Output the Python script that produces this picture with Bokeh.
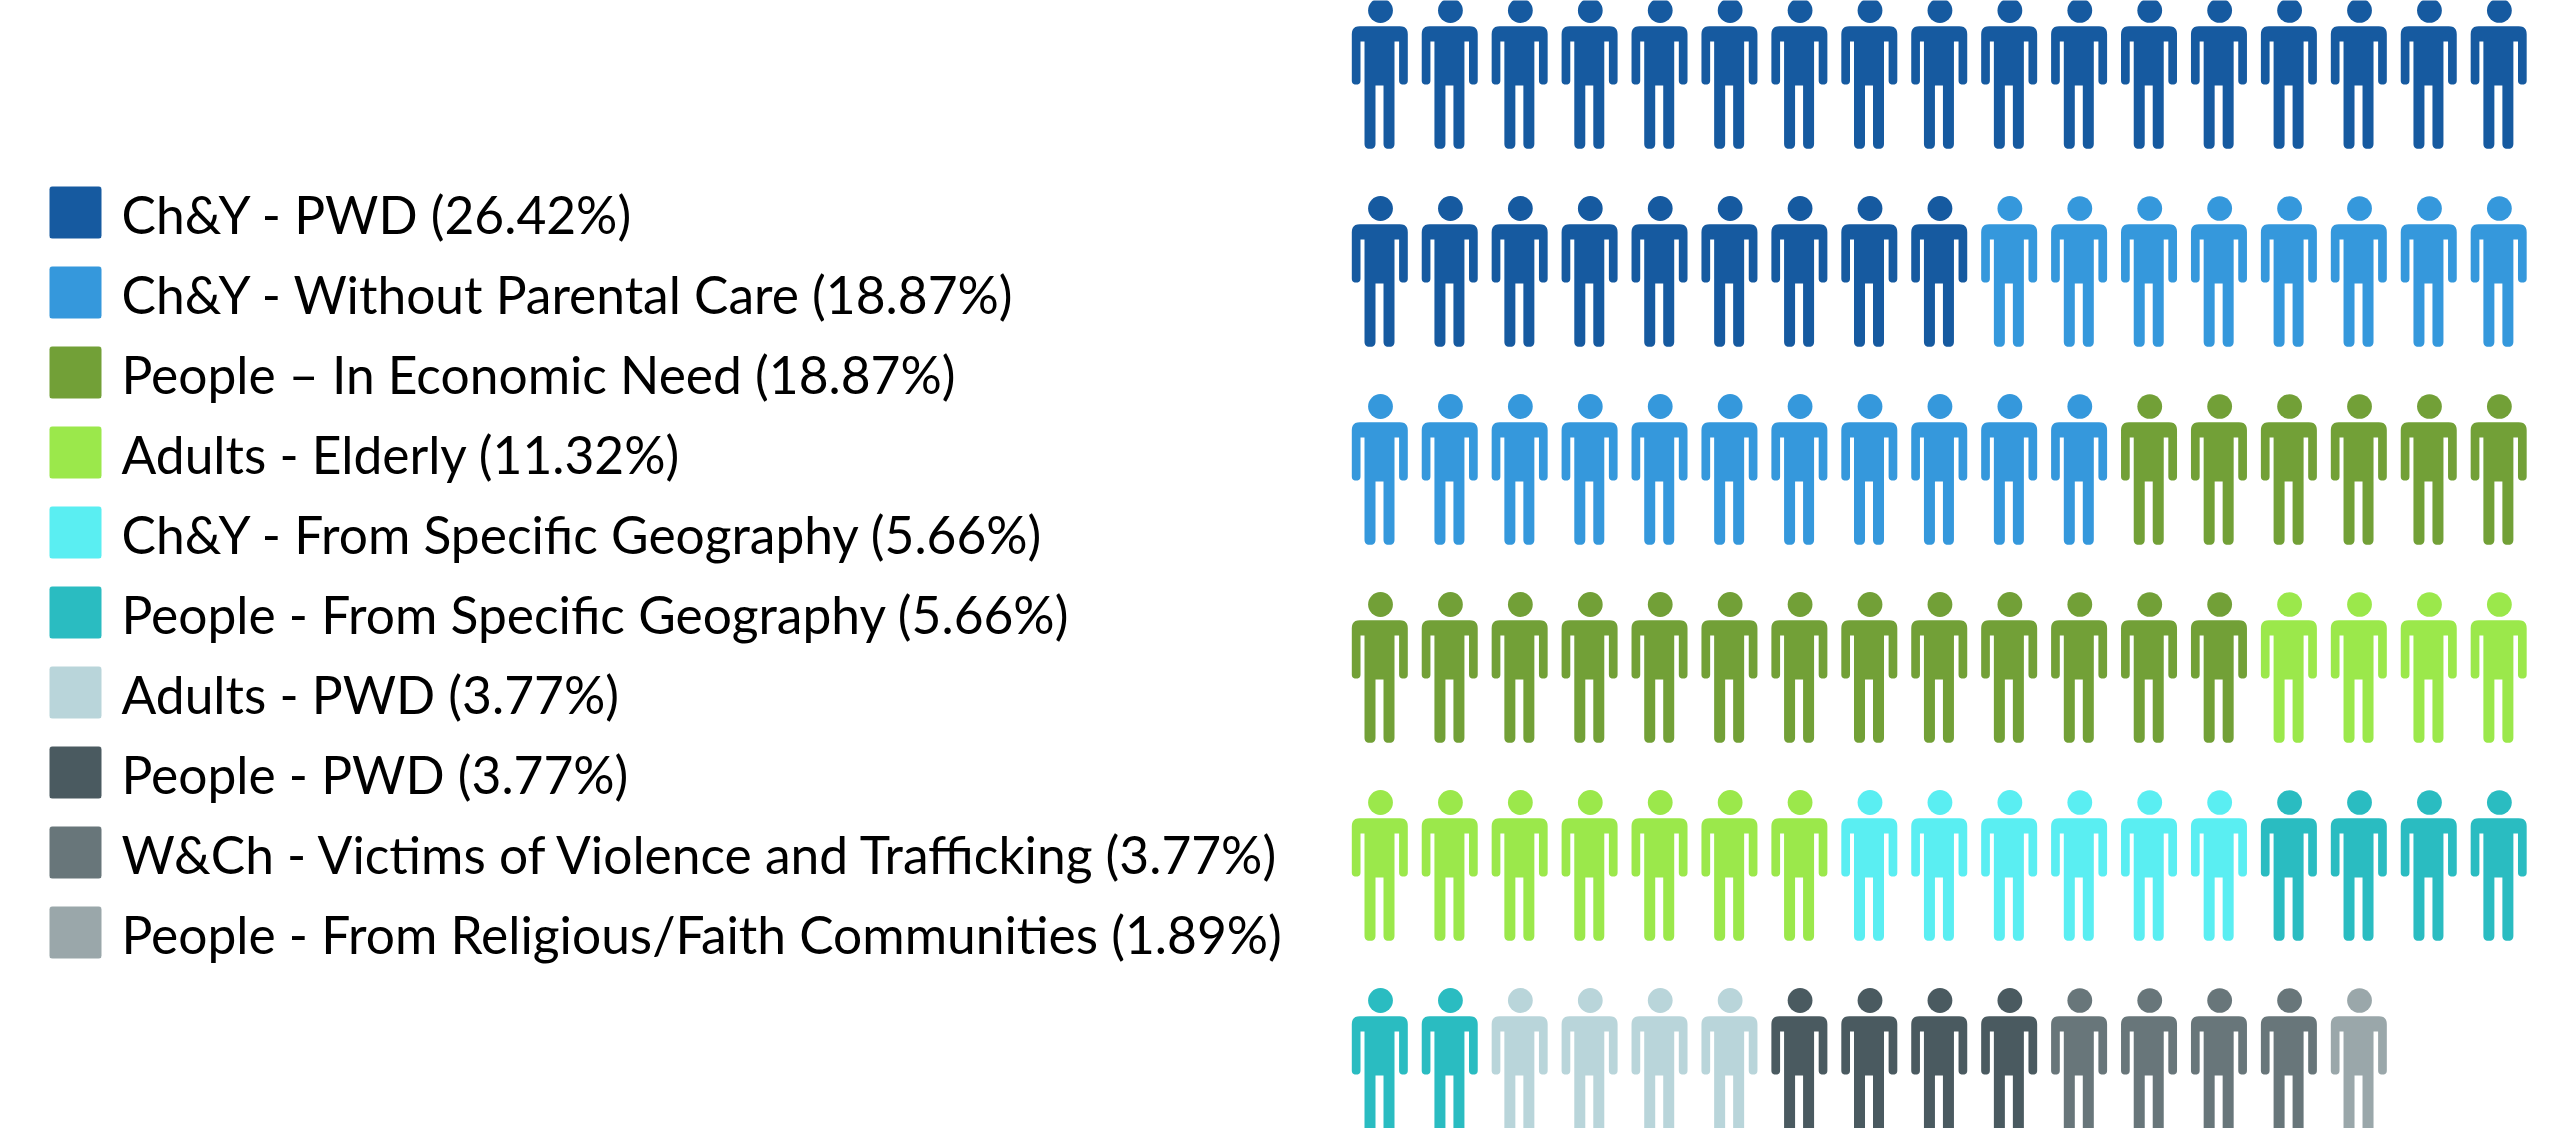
import math
from bokeh.plotting import figure
from bokeh.models import Range1d
from bokeh.core.properties import value
from bokeh.embed import file_html
from bokeh.resources import INLINE

categories = ["Ch&Y - PWD", "Ch&Y - Without Parental Care", "People \u2013 In Economic Need",
              "Adults - Elderly", "Ch&Y - From Specific Geography", "People - From Specific Geography",
              "Adults - PWD", "People - PWD", "W&Ch - Victims of Violence and Trafficking",
              "People - From Religious/Faith Communities"]
percents = ["26.42", "18.87", "18.87", "11.32", "5.66", "5.66", "3.77", "3.77", "3.77", "1.89"]
counts = [26, 19, 19, 11, 6, 6, 4, 4, 4, 1]
colors = ["#165AA0", "#3598DC", "#72A037", "#9BE84B", "#5AEEF2", "#2ABCC1", "#B9D5DA", "#4A5A60", "#68767A", "#9AA7AA"]

COLS = 17
X0, DX = 1380.0, 69.93
Y0, DY = 10.0, 198.0
LEG_X, LEG_Y, LEG_DY = 49.0, 212.0, 80.0


def rounded(pts, radii, n=6):
    xs, ys = [], []
    m = len(pts)
    for i, (px, py) in enumerate(pts):
        r = radii[i]
        if r == 0:
            xs.append(px); ys.append(py); continue
        ax, ay = pts[i - 1]
        bx, by = pts[(i + 1) % m]
        la, lb = math.hypot(ax - px, ay - py), math.hypot(bx - px, by - py)
        ux, uy = (ax - px) / la, (ay - py) / la
        vx, vy = (bx - px) / lb, (by - py) / lb
        for k in range(n + 1):
            t = k / n
            q = (1 - t) ** 2, 2 * t * (1 - t), t ** 2
            s = px + ux * r, py + uy * r
            e = px + vx * r, py + vy * r
            xs.append(q[0] * s[0] + q[1] * px + q[2] * e[0])
            ys.append(q[0] * s[1] + q[1] * py + q[2] * e[1])
    return xs, ys


BODY = [(-28.7, 15.7), (27.3, 15.7), (27.3, 74), (18.6, 74), (18.6, 31), (14, 31), (14, 138.3),
        (3, 138.3), (3, 75), (-5, 75), (-5, 138.3), (-16, 138.3), (-16, 31), (-20, 31), (-20, 74), (-28.7, 74)]
BODY_R = [8, 8, 4, 4, 0, 0, 5, 5, 0, 0, 5, 5, 0, 0, 4, 4]
bx, by = rounded(BODY, BODY_R)

cx, cy, col = [], [], []
i = 0
for c, color in zip(counts, colors):
    for _ in range(c):
        r, k = divmod(i, COLS)
        cx.append(X0 + k * DX); cy.append(Y0 + r * DY); col.append(color)
        i += 1

p = figure(width=2563, height=1128, output_backend="svg", toolbar_location=None,
           x_range=Range1d(0, 2563), y_range=Range1d(1128, 0), min_border=0,
           outline_line_color=None, background_fill_color="white", border_fill_color="white")
p.axis.visible = False
p.grid.visible = False

p.patches([[x + v for v in bx] for x in cx], [[y + v for v in by] for y in cy],
          fill_color=col, line_color=None)
p.circle(cx, cy, radius=12.4, fill_color=col, line_color=None)

# legend
sx, sy = rounded([(0, -26), (52, -26), (52, 26), (0, 26)], [3, 3, 3, 3], n=3)
ly = [LEG_Y + j * LEG_DY for j in range(len(categories))]
p.patches([[LEG_X + v for v in sx] for _ in ly], [[y + v for v in sy] for y in ly],
          fill_color=colors, line_color=None)
labels = [f"{c} ({v}%)" for c, v in zip(categories, percents)]
p.text([121] * len(ly), [y + 1 for y in ly], text=labels, text_font=value("Lato"),
       text_font_size="51.5px", text_color="#000000", text_baseline="alphabetic", text_align="left")

open("out.html", "w").write(file_html(p, INLINE))
